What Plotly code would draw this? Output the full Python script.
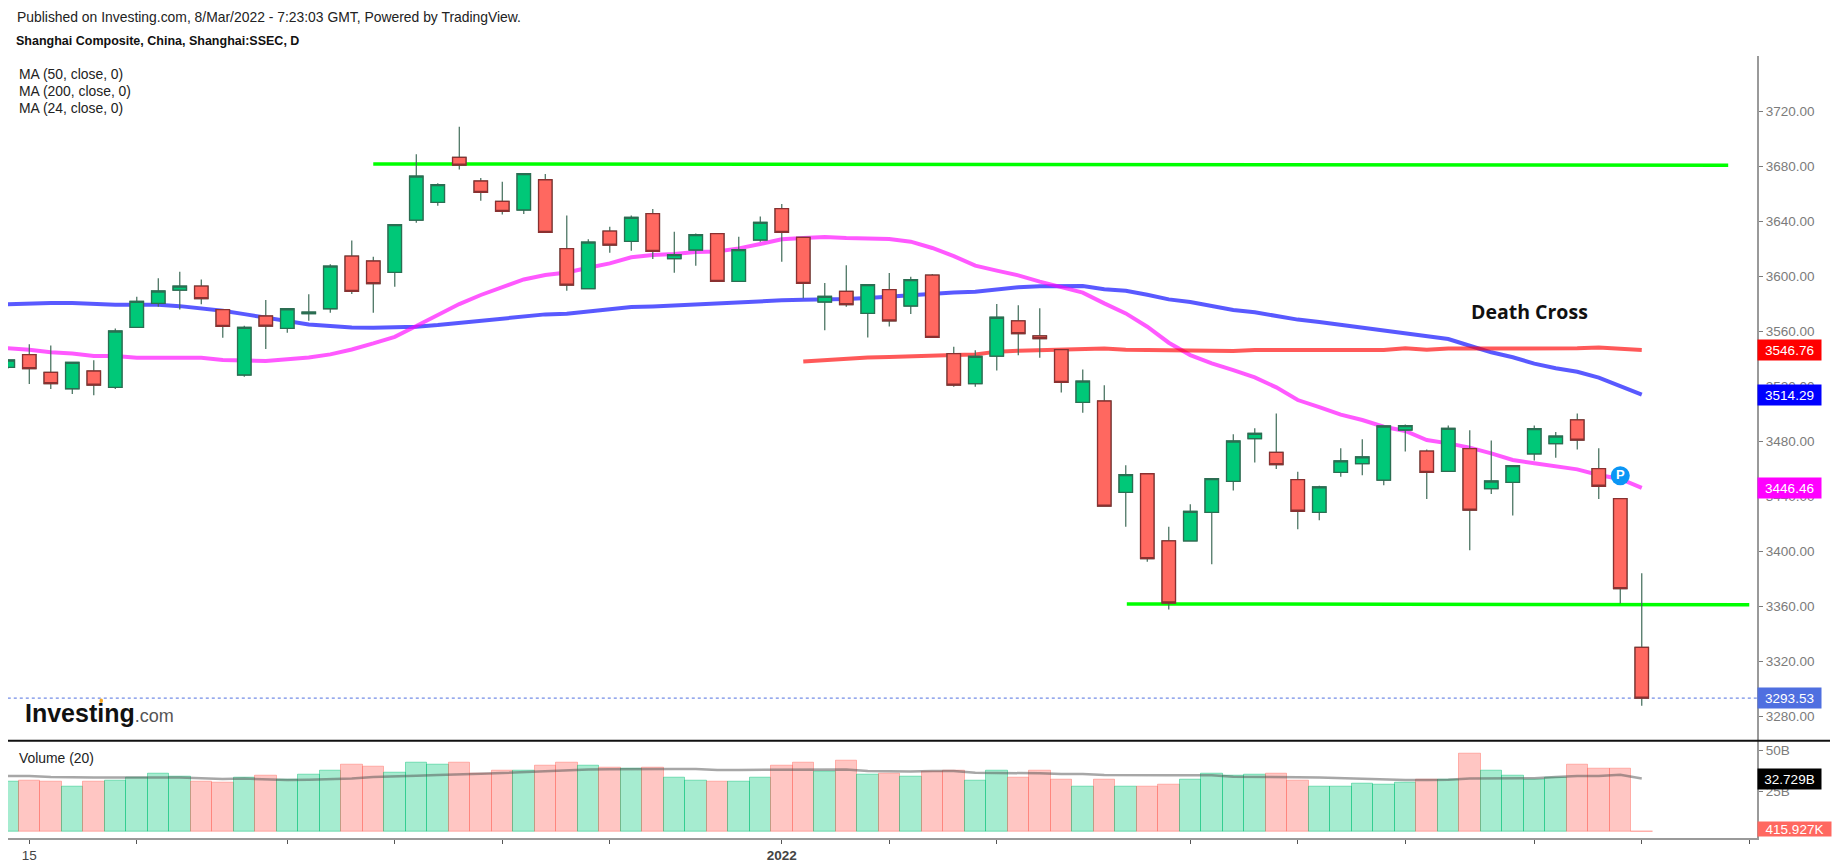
import plotly.graph_objects as go

# candle index: -1 is the cut off candle at the left edge, 75 is 8/Mar
idx = list(range(-1, 76))

open_px = [3534, 3543.3, 3530.4, 3518.5, 3531.4, 3519.5, 3563.1, 3580.6, 3590.3, 3593.2,
           3576, 3528.5, 3571.4, 3562.4, 3573.1, 3576.7, 3615, 3611.4, 3603.1, 3641.2,
           3654, 3686.8, 3669.6, 3654.8, 3648.5, 3670.5, 3620.4, 3591.3, 3633.2, 3625.7,
           3645.8, 3613.1, 3619.4, 3631.3, 3596.6, 3626.7, 3649.5, 3628.6, 3581.6, 3589.3,
           3573.3, 3590.6, 3578.7, 3601.2, 3544, 3522.2, 3542.3, 3567.8, 3556.9, 3546.9,
           3508.6, 3509.6, 3443.2, 3456.7, 3407.8, 3407.8, 3428.6, 3451.2, 3482.2, 3472.3,
           3452.4, 3428.6, 3457.7, 3464, 3452.1, 3488.5, 3473.2, 3458.4, 3474.9, 3445.8,
           3450.4, 3471.1, 3478.6, 3495.8, 3460.4, 3438.6, 3330.4]
close_px = [3539.4, 3533.1, 3522.2, 3537.7, 3521.2, 3560.5, 3582, 3589.6, 3593.2, 3584,
            3563.9, 3563.1, 3564.1, 3576.7, 3574.3, 3607.7, 3589.3, 3594.9, 3637.8, 3673.2,
            3666.9, 3681.2, 3661.3, 3647.5, 3674.9, 3632.2, 3593.9, 3625.2, 3623, 3643.2,
            3618.4, 3616, 3630.6, 3596.6, 3619.7, 3639.5, 3632.3, 3595.2, 3585.7, 3579.7,
            3594.2, 3567.8, 3597.8, 3555.9, 3521.2, 3542.1, 3570.5, 3558.6, 3554.9, 3523.2,
            3524.1, 3433.2, 3456, 3394.9, 3362.7, 3429.3, 3453.1, 3480.5, 3486.1, 3463.3,
            3429.4, 3447.1, 3466, 3468.9, 3491.4, 3491.7, 3457.7, 3489.7, 3430.3, 3451.4,
            3462.6, 3489.5, 3484.1, 3481.2, 3447.6, 3373.1, 3293.53]
high_px = [3540, 3550.8, 3550, 3538, 3539.2, 3562.4, 3585.4, 3598.8, 3603.6, 3598,
           3576, 3564.4, 3583, 3576.7, 3587.2, 3609, 3626.4, 3614.5, 3638.3, 3689,
           3667.9, 3709.1, 3671.7, 3669.1, 3674.9, 3674.7, 3644.6, 3627.2, 3636.4, 3644.6,
           3649.2, 3632.7, 3631.5, 3631.3, 3629.1, 3643.7, 3652.9, 3628.6, 3595.4, 3608.3,
           3594.7, 3602.7, 3600, 3602, 3549.1, 3546.5, 3580.1, 3579.2, 3577, 3547,
           3532.6, 3521, 3462.8, 3456.7, 3418.2, 3434.5, 3453.1, 3485.4, 3489.7, 3500.6,
           3458.2, 3448, 3475.2, 3481.7, 3491.6, 3492.6, 3474.4, 3491.7, 3488.3, 3480.8,
           3463, 3491.7, 3487.1, 3500.6, 3475.2, 3438.6, 3384.3]
low_px = [3533, 3521.9, 3518.3, 3514.7, 3513.7, 3518.3, 3563, 3578.2, 3576.2, 3579.9,
          3555.6, 3527.3, 3547.4, 3559.3, 3568, 3573.8, 3587.4, 3573.8, 3592.7, 3639.3,
          3651.6, 3678, 3655.3, 3645.3, 3645.6, 3632, 3589.8, 3591.3, 3617.4, 3618.9,
          3612.9, 3602.9, 3608, 3596.6, 3596.6, 3625.5, 3610.9, 3584.3, 3561, 3578.2,
          3555.7, 3563.7, 3572.9, 3555.9, 3520, 3520, 3531.7, 3542.8, 3541.1, 3515.7,
          3501.1, 3433, 3418.2, 3392.7, 3358, 3407.8, 3390.8, 3444.6, 3464.8, 3460.1,
          3416.3, 3422.8, 3454.6, 3455.6, 3448.3, 3472.8, 3438.3, 3458.4, 3401, 3442,
          3426.4, 3466.4, 3468.4, 3474.4, 3438.3, 3362.4, 3288]

ma50 = [3579.9, 3580.6, 3580.8, 3580.8, 3579.9, 3579.6, 3579.6, 3579.6, 3578.6, 3577.2,
        3575.3, 3572.8, 3570.2, 3567.7, 3565.3, 3564.1, 3563.1, 3562.9, 3562.9, 3563.6,
        3564.8, 3566.5, 3568, 3569.7, 3571.4, 3572.6, 3573.1, 3574.8, 3576.3, 3578,
        3578.4, 3579.2, 3580.1, 3580.4, 3581.1, 3581.8, 3582.8, 3583.3, 3583.3, 3583.8,
        3584.5, 3585.5, 3586.7, 3588.1, 3588.6, 3589.1, 3591, 3592.3, 3593, 3593.2,
        3593.2, 3590.8, 3589.8, 3586.9, 3583.5, 3581.6, 3578.7, 3575.8, 3574.1, 3571.4,
        3568.8, 3567.1, 3565.1, 3562.4, 3561, 3559, 3556.4, 3554.7, 3549.8, 3545,
        3541.4, 3536.8, 3533.4, 3530.9, 3526.6, 3520.8, 3514.29]
ma24 = [3547.9, 3546.9, 3545, 3544.2, 3542.3, 3542.3, 3541.1, 3541.1, 3541.1, 3541.1,
        3539.4, 3538.7, 3538.7, 3539.9, 3541.3, 3543.5, 3547.1, 3551.5, 3556.3, 3564.1,
        3572.1, 3580.1, 3586.7, 3592.7, 3598, 3601.2, 3603.1, 3606.5, 3609.7, 3614.1,
        3615.8, 3616.5, 3618, 3618.4, 3620.6, 3623.8, 3627.2, 3628.1, 3628.9, 3628.1,
        3627.9, 3627.4, 3625.5, 3620.9, 3615, 3608, 3604.4, 3601, 3596.4, 3592.5,
        3588.4, 3580.6, 3573.3, 3563.6, 3552, 3543, 3537, 3532.1, 3526.8, 3519.5,
        3510.3, 3505.2, 3499.7, 3495.8, 3490.9, 3487.8, 3481.2, 3478.8, 3475.7, 3471.5,
        3466.7, 3464.3, 3461.8, 3459.9, 3455.8, 3452.9, 3446.46]
ma200_idx = list(range(36, 76))
ma200 = [3538.4, 3539.4, 3540.4, 3541.3, 3541.6, 3542.3, 3542.8, 3543, 3543.5, 3545.5,
         3546.2, 3546.7, 3546.9, 3547.7, 3547.7, 3546.9, 3546.7, 3546, 3546, 3546,
         3546, 3546.7, 3546.7, 3546.7, 3546.7, 3546.7, 3546.7, 3546.7, 3547.9, 3546.9,
         3547.7, 3547.7, 3547.7, 3547.7, 3547.7, 3547.7, 3547.9, 3548.6, 3547.9, 3546.76]

# volume in billions, up candle or not comes from open/close
volume = [30.6, 31.2, 30.6, 27.6, 30.6, 31.2, 33.1, 35.9, 33.7, 30.6,
          30, 33.1, 34.3, 32.2, 35.3, 37.3, 41.4, 39.8, 36.1, 42.7,
          41.4, 42.2, 35.9, 37.3, 37.3, 40.4, 42.2, 40.4, 39.2, 38.6,
          39.2, 33.1, 31.4, 30.6, 30.6, 33.1, 40.4, 42.2, 36.7, 43.7,
          34.9, 35.9, 33.7, 36.7, 37.3, 31.2, 37.3, 33.1, 37.3, 32,
          27.6, 32.2, 27.6, 27.6, 29.2, 32, 35.9, 34.3, 35.3, 35.9,
          31.2, 27.6, 27.6, 29.8, 29, 30, 32, 31.8, 48.2, 37.3,
          34.3, 32, 33.5, 41.4, 39, 39, 0.4]
vol_ma = [34.3, 34.3, 33.7, 33.3, 33.3, 33.3, 33.1, 33.3, 33.3, 32.7,
          32.4, 32.7, 32.2, 31.8, 32, 32.4, 32.7, 33.7, 33.9, 34.5,
          34.9, 35.5, 35.7, 36.1, 36.7, 37.1, 37.6, 38.2, 38.4, 38.6,
          38.6, 38.6, 38.6, 38, 38, 38, 38, 38, 38, 38.2,
          37.3, 37.1, 37.1, 37.3, 37.3, 36.3, 36.3, 36.3, 35.9, 35.5,
          35.5, 34.9, 34.7, 34.7, 34.7, 34.7, 34.7, 33.9, 33.9, 33.9,
          33.5, 33.3, 32.9, 32.4, 31.8, 31.8, 31.8, 32, 32.7, 32.7,
          32.7, 32.9, 33.7, 34.3, 34.3, 35.1, 32.7]

resist_x = [16, 79.02]
resist_y = [3682, 3681]
support_x = [51.05, 80]
support_y = [3362, 3361.5]

price_ticks = [3280, 3320, 3360, 3400, 3440, 3480, 3520, 3560, 3600, 3640, 3680, 3720]
time_ticks = [0, 5, 12, 17, 22, 27, 35, 40, 45, 54, 59, 64, 70, 75, 80]
time_labels = ["15", "", "", "", "", "", "<b>2022</b>", "", "", "", "", "", "", "", ""]

W = 1837
H = 866
font = "Liberation Sans"
gray = "#7b7b7b"
axisGray = "#9a9a9a"

# pixel positions of the panes in the screenshot
left = 8
right = 1757
top = 56
split = 740.7
bottom = 837.7

upFill = "#00c878"
downFill = "#ff6860"
upLine = "#2a6e52"
downLine = "#8a3030"
wickColor = "#3f6b58"

fig = go.Figure()

# moving averages and the two drawn levels sit under the candles
fig.add_trace(go.Scatter(x=idx, y=ma50, mode="lines", line=dict(color="rgba(0,0,255,0.65)", width=4)))
fig.add_trace(go.Scatter(x=idx, y=ma24, mode="lines", line=dict(color="rgba(255,0,255,0.65)", width=4)))
fig.add_trace(go.Scatter(x=ma200_idx, y=ma200, mode="lines", line=dict(color="rgba(255,0,0,0.65)", width=4)))
fig.add_trace(go.Scatter(x=resist_x, y=resist_y, mode="lines", line=dict(color="#00ff00", width=3.5)))
fig.add_trace(go.Scatter(x=support_x, y=support_y, mode="lines", line=dict(color="#00ff00", width=3.5)))
fig.add_trace(go.Scatter(x=[-1, 80.36], y=[close_px[-1], close_px[-1]], mode="lines",
                         line=dict(color="#4f6fe0", width=1, dash="dot")))

# wicks first, then the bodies on top so wicks stay one colour
fig.add_trace(go.Candlestick(x=idx, open=open_px, high=high_px, low=low_px, close=close_px,
                             yaxis="y3", whiskerwidth=0,
                             increasing=dict(line=dict(color=wickColor, width=1.2), fillcolor=wickColor),
                             decreasing=dict(line=dict(color=wickColor, width=1.2), fillcolor=wickColor)))
body_top = [max(o, c) for o, c in zip(open_px, close_px)]
body_bot = [min(o, c) for o, c in zip(open_px, close_px)]
fig.add_trace(go.Candlestick(x=idx, open=open_px, high=body_top, low=body_bot, close=close_px,
                             yaxis="y3", whiskerwidth=0,
                             increasing=dict(line=dict(color=upLine, width=1.3), fillcolor=upFill),
                             decreasing=dict(line=dict(color=downLine, width=1.3), fillcolor=downFill)))

# the "P" publication badge
fig.add_trace(go.Scatter(x=[74], y=[3455.3], yaxis="y3", mode="markers+text", text=["<b>P</b>"],
                         textposition="middle center", textfont=dict(family=font, size=13, color="white"),
                         marker=dict(size=19, color="#0b96f5")))

# volume pane
vol_colors = ["rgba(0,200,120,0.35)" if c >= o else "rgba(255,104,96,0.38)" for o, c in zip(open_px, close_px)]
vol_lines = ["rgba(0,190,115,0.45)" if c >= o else "rgba(255,104,96,0.45)" for o, c in zip(open_px, close_px)]
fig.add_trace(go.Bar(x=idx, y=volume, yaxis="y2", width=1,
                     marker=dict(color=vol_colors, line=dict(color=vol_lines, width=1))))
fig.add_trace(go.Scatter(x=idx, y=vol_ma, yaxis="y2", mode="lines",
                         line=dict(color="rgba(80,80,80,0.5)", width=2.5)))

main_range = [3560 - (split - 331.7) / 1.375, 3560 - (top - 331.7) / 1.375]

fig.update_layout(
    width=W, height=H,
    margin=dict(l=0, r=0, t=0, b=0),
    paper_bgcolor="white", plot_bgcolor="white",
    showlegend=False,
    hovermode=False,
    boxmode="overlay", boxgap=0.375, boxgroupgap=0,
    bargap=0,
    font=dict(family=font, size=13.5, color=gray),
    xaxis=dict(domain=[left / W, right / W], range=[-0.99, 80.36], anchor="y2",
               tickmode="array", tickvals=time_ticks, ticktext=time_labels,
               ticks="outside", ticklen=4, tickcolor="#555", showgrid=False, zeroline=False,
               showline=True, linecolor=axisGray, linewidth=2,
               rangeslider=dict(visible=False), tickfont=dict(family=font, size=13.5, color="#444")),
    yaxis=dict(domain=[(H - split) / H, (H - top) / H], range=main_range, side="right", anchor="x",
               tickmode="array", tickvals=price_ticks, ticktext=["%.2f" % t for t in price_ticks],
               ticks="outside", ticklen=4, tickcolor=gray, showgrid=False, zeroline=False,
               showline=True, linecolor=axisGray, linewidth=2),
    yaxis2=dict(domain=[(H - bottom) / H, (H - split) / H], range=[-3.5, 55.9], side="right", anchor="x",
                tickmode="array", tickvals=[25, 50], ticktext=["25B", "50B"],
                ticks="outside", ticklen=4, tickcolor=gray, showgrid=False, zeroline=False,
                showline=True, linecolor=axisGray, linewidth=2),
    yaxis3=dict(overlaying="y", range=main_range, side="right", anchor="x", visible=False),
)

# separator between price and volume panes
fig.add_shape(type="line", xref="paper", yref="paper", x0=left / W, x1=1830 / W,
              y0=(H - split) / H, y1=(H - split) / H, line=dict(color="#111111", width=2))

# orange dot on the logo's i
fig.add_shape(type="circle", xref="paper", yref="paper", x0=99.5 / W, x1=103 / W,
              y0=(H - 703) / H, y1=(H - 698.5) / H, fillcolor="#f5a623", line=dict(width=0))


def text_at(px, py, text, size=13.9, color="#222222", family=font):
    fig.add_annotation(xref="paper", yref="paper", x=px / W, y=(H - py) / H, text=text,
                       showarrow=False, xanchor="left", yanchor="middle",
                       font=dict(family=family, size=size, color=color))


text_at(15, 17.5, "Published on Investing.com, 8/Mar/2022 - 7:23:03 GMT, Powered by TradingView.")
text_at(14, 40.7, "<b>Shanghai Composite, China, Shanghai:SSEC, D</b>", size=12.5, color="#111111")
text_at(17, 73.7, "MA (50, close, 0)")
text_at(17, 90.7, "MA (200, close, 0)")
text_at(17, 107.7, "MA (24, close, 0)")
text_at(17, 757.7, "Volume (20)")
text_at(1469, 311.7, "<b>Death Cross</b>", size=19.5, color="#111111", family="Open Sans")
text_at(23, 712.5, "<b>Investing</b><span style='font-size:18px;color:#555555'>.com</span>", size=25, color="#111111")


# price tags on the axis, text comes from the series end values
def tag(value, text, color, yaxis, tagWidth=63, tagHeight=20, shift=0):
    fig.add_annotation(xref="paper", yref=yaxis, x=right / W, y=value, text=text, showarrow=False,
                       xanchor="left", yanchor="middle", align="center", width=tagWidth, height=tagHeight,
                       borderpad=0, bgcolor=color, yshift=shift,
                       font=dict(family=font, size=13.5, color="white"))
    # short white tick inside the tag
    fig.add_shape(type="line", xref="paper", yref=yaxis, x0=(right + 1) / W, x1=(right + 5) / W, y0=value, y1=value,
                  line=dict(color="white", width=1), layer="above")


tag(ma200[-1], "%.2f" % ma200[-1], "#ff0000", "y")
tag(ma50[-1], "%.2f" % ma50[-1], "#0000ff", "y")
tag(ma24[-1], "%.2f" % ma24[-1], "#ff00ff", "y")
tag(close_px[-1], "%.2f" % close_px[-1], "#4f6fe0", "y")
tag(vol_ma[-1] + 0.029, "32.729B", "#000000", "y2")
tag(0, "415.927K", "#ff6860", "y2", tagWidth=73, tagHeight=14, shift=3)

fig.write_html("out.html", config=dict(displayModeBar=False),
               post_script="document.body.style.margin='0';document.body.style.overflow='hidden';")
